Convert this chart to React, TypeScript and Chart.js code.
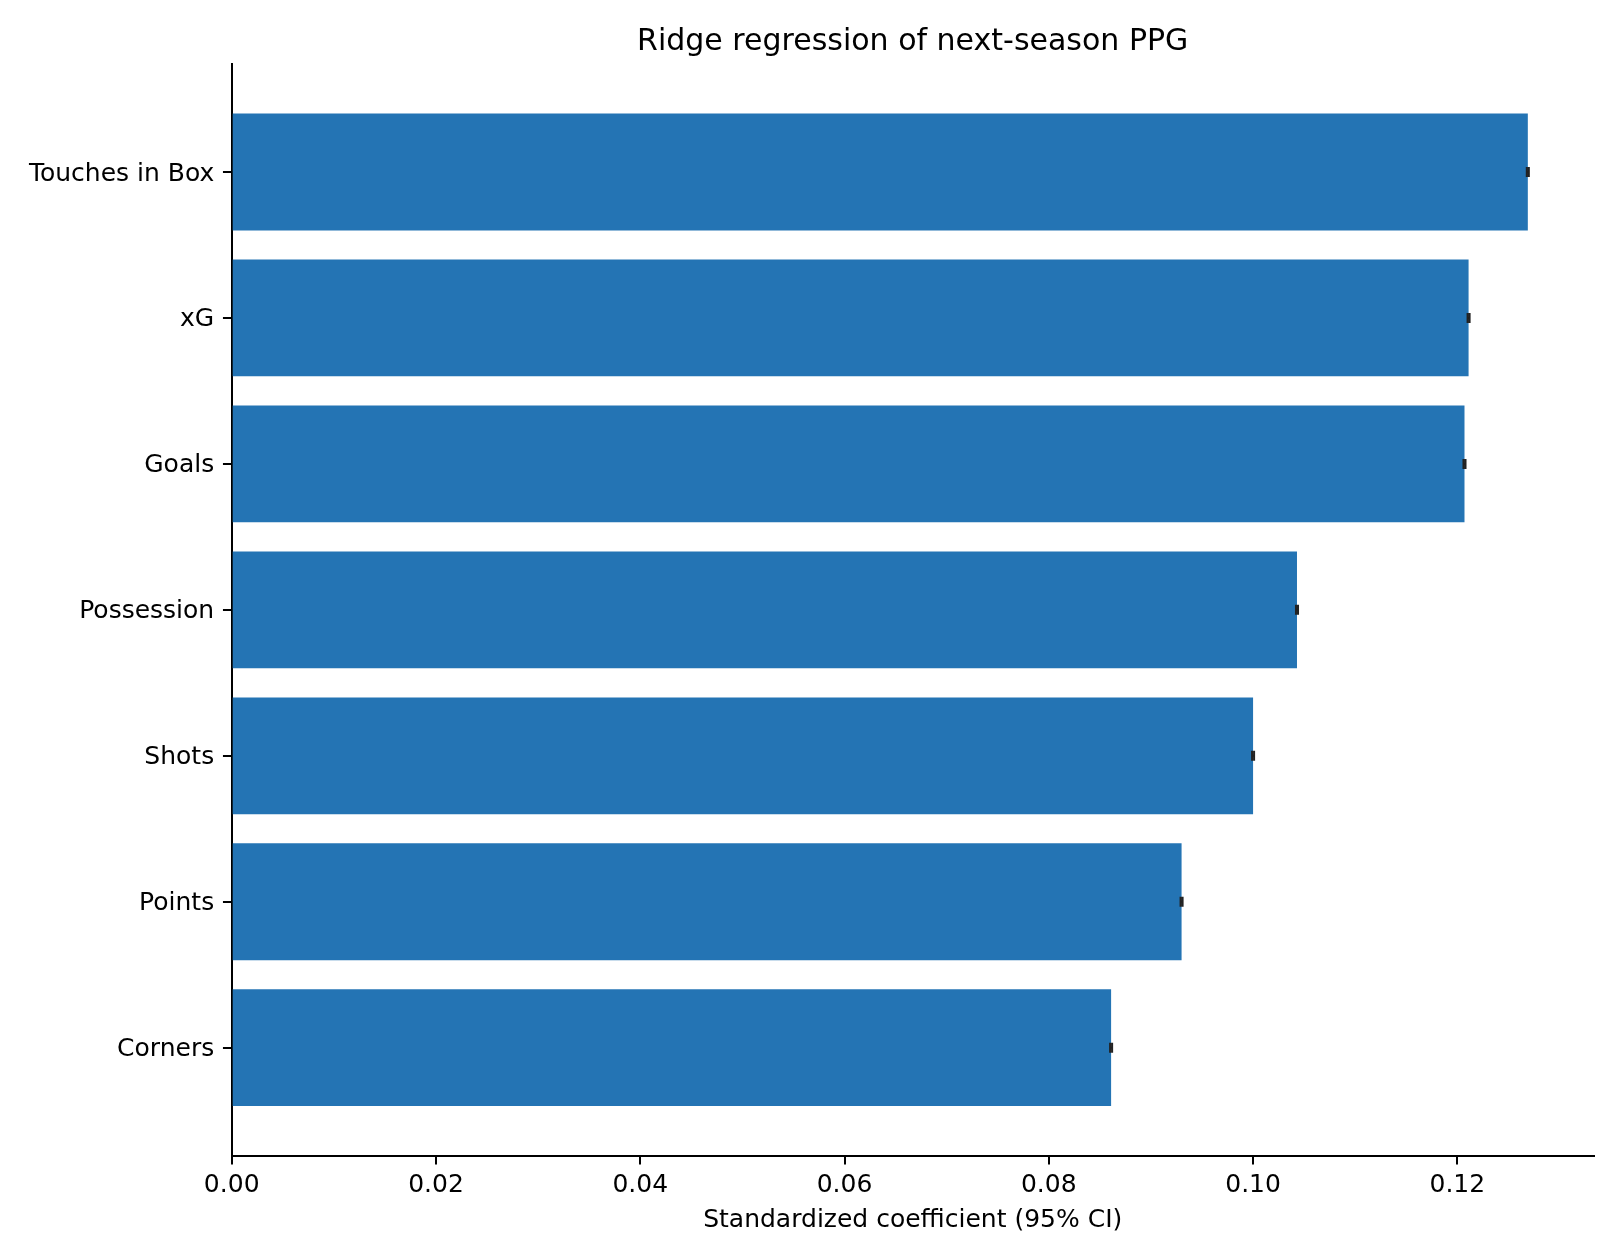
import React, { useEffect, useRef } from "react";
import { Chart, registerables } from "chart.js";

Chart.register(...registerables);

// ---- Data (top to bottom as displayed) ----
const features: string[] = [
  "Touches in Box",
  "xG",
  "Goals",
  "Possession",
  "Shots",
  "Points",
  "Corners",
];
const coefficients: number[] = [0.1269, 0.1211, 0.1207, 0.1043, 0.1, 0.093, 0.0861];
const ciLow: number[] = [0.1268, 0.121, 0.1206, 0.1042, 0.0999, 0.0929, 0.086];
const ciHigh: number[] = [0.127, 0.1212, 0.1208, 0.1044, 0.1001, 0.0931, 0.0862];
const xTickValues: number[] = [0, 0.02, 0.04, 0.06, 0.08, 0.1, 0.12];

const chartTitle = "Ridge regression of next-season PPG";
const xAxisTitle = "Standardized coefficient (95% CI)";

const FONT = "'DejaVu Sans', 'Liberation Sans', sans-serif";

export default function App() {
  const canvasRef = useRef<HTMLCanvasElement | null>(null);

  useEffect(() => {
    document.body.style.margin = "0";
    const canvas = canvasRef.current;
    if (!canvas) return;
    const n = features.length;
    const barFrac = 0.8;
    const lo = -barFrac / 2;
    const hi = n - 1 + barFrac / 2;
    const yMin = lo - 0.05 * (hi - lo);
    const yMax = hi + 0.05 * (hi - lo);
    const xMax = Math.max(...ciHigh) * 1.05;

    const errorBars = {
      id: "errorBars",
      afterDatasetsDraw(chart: any) {
        const { ctx, scales } = chart;
        const xs = scales.x;
        const ys = scales.y;
        ctx.save();
        ctx.strokeStyle = "#222222";
        features.forEach((_, i) => {
          const yy = ys.getPixelForValue(n - 1 - i);
          const x1 = xs.getPixelForValue(ciLow[i]);
          const x2 = xs.getPixelForValue(ciHigh[i]);
          ctx.lineWidth = 2;
          ctx.beginPath();
          ctx.moveTo(x1, yy);
          ctx.lineTo(x2, yy);
          ctx.stroke();
          ctx.lineWidth = 2;
          ctx.beginPath();
          ctx.moveTo(x1, yy - 5);
          ctx.lineTo(x1, yy + 5);
          ctx.moveTo(x2, yy - 5);
          ctx.lineTo(x2, yy + 5);
          ctx.stroke();
        });
        ctx.restore();
      },
    };

    const chart = new Chart(canvas, {
      type: "bar",
      data: {
        datasets: [
          {
            data: features.map((_, i) => ({ x: coefficients[i], y: n - 1 - i })),
            backgroundColor: "#2474b4",
            borderWidth: 0,
            barPercentage: barFrac,
            categoryPercentage: 1,
          } as any,
        ],
      },
      options: {
        indexAxis: "y",
        animation: false,
        responsive: false,
        devicePixelRatio: 1,
        events: [],
        layout: { padding: { left: 0, right: 26.3, top: 0, bottom: 0 } },
        plugins: {
          legend: { display: false },
          tooltip: { enabled: false },
          title: {
            display: true,
            fullSize: false,
            text: chartTitle,
            color: "#000",
            font: { family: FONT, size: 30, weight: "normal" as any },
            padding: { top: 24.5, bottom: 3.5 },
          },
        },
        scales: {
          x: {
            type: "linear",
            min: 0,
            max: xMax,
            offset: false,
            afterBuildTicks: (s: any) => {
              s.ticks = xTickValues.map((v) => ({ value: v }));
            },
            afterFit: (s: any) => {
              s.height = 104.3;
            },
            ticks: {
              callback: (v: any) => Number(v).toFixed(2),
              color: "#000",
              font: { family: FONT, size: 25 },
              padding: 6,
              maxRotation: 0,
              autoSkip: false,
            },
            grid: {
              drawOnChartArea: false,
              drawTicks: true,
              offset: false,
              tickLength: 8.75,
              color: "#000",
              lineWidth: 2,
            },
            border: { display: true, color: "#000", width: 2 },
            title: {
              display: true,
              text: xAxisTitle,
              color: "#000",
              font: { family: FONT, size: 25 },
              padding: { top: 4, bottom: 25 },
            },
          },
          y: {
            type: "linear",
            min: yMin,
            max: yMax,
            offset: false,
            afterBuildTicks: (s: any) => {
              s.ticks = features.map((_, i) => ({ value: i }));
            },
            afterFit: (s: any) => {
              s.width = 231.7;
            },
            ticks: {
              callback: (v: any) => features[n - 1 - Math.round(Number(v))],
              color: "#000",
              font: { family: FONT, size: 25 },
              padding: 8.75,
              labelOffset: 2,
              autoSkip: false,
            },
            grid: {
              drawOnChartArea: false,
              drawTicks: true,
              offset: false,
              tickLength: 8.75,
              color: "#000",
              lineWidth: 2,
            },
            border: { display: true, color: "#000", width: 2 },
          },
        },
      },
      plugins: [errorBars],
    });

    return () => chart.destroy();
  }, []);

  return (
    <div style={{ position: "absolute", left: 0, top: 0, width: 1620, height: 1260, background: "#fff" }}>
      <canvas ref={canvasRef} width={1620} height={1260} style={{ width: 1620, height: 1260, display: "block" }} />
    </div>
  );
}
